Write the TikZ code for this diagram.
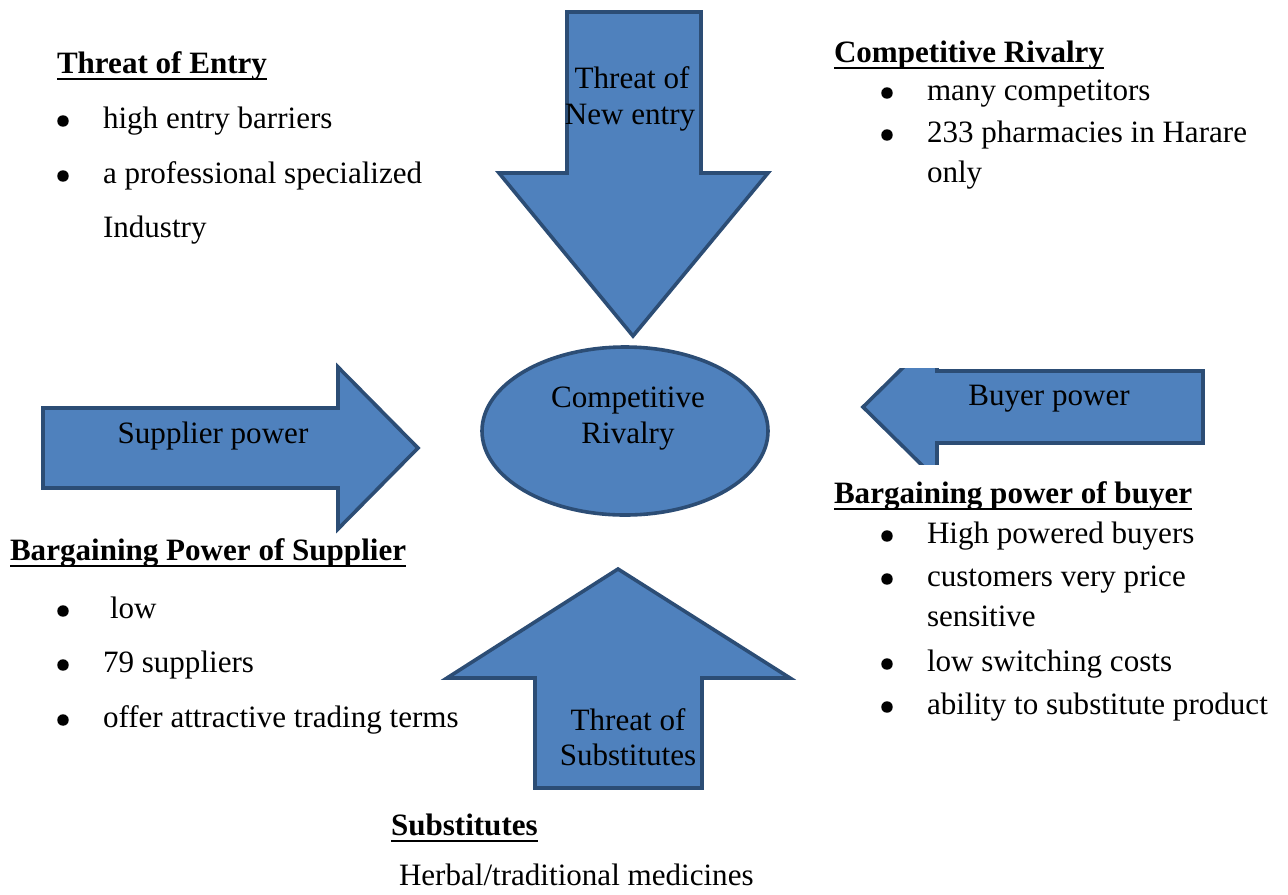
\documentclass[tikz,border=0pt]{standalone}
\usepackage{fontspec}
\setmainfont{Liberation Serif}
\usetikzlibrary{calc,shapes.geometric}
\definecolor{arrfill}{HTML}{4F81BD}
\definecolor{arrline}{HTML}{2C4D75}
\begin{document}
\begin{tikzpicture}[x=0.75pt,y=-0.75pt,
  forceshape/.style={fill=arrfill,draw=arrline,line width=2.7pt,line join=miter},
  txt/.style={font=\fontsize{23.3}{27}\selectfont,inner sep=0pt,outer sep=0pt,anchor=base west},
  ctxt/.style={font=\fontsize{23.3}{27}\selectfont,inner sep=0pt,outer sep=0pt,anchor=base},
  head/.style={txt,font=\fontsize{23.3}{27}\selectfont\bfseries},
  bul/.style={circle,fill=black,inner sep=0pt,minimum size=8.6pt},
  uline/.style={line width=1.9pt}]
\useasboundingbox (0,0) rectangle (1288,894);

% Threat of new entry (down arrow)
\draw[forceshape] (567,12) -- (701,12) -- (701,173) -- (768,173) -- (633,336) -- (499,173) -- (567,173) -- cycle;
\node[ctxt] (tne1) at (632,88) {Threat of};
\node[ctxt] (tne2) at (630,124) {New entry};

% Central ellipse
\node[forceshape,ellipse,minimum width=214.5pt,minimum height=126pt,inner sep=0pt] (rivalry) at (625,431) {};
\node[ctxt] (riv1) at (628,407) {Competitive};
\node[ctxt] (riv2) at (628,443) {Rivalry};

% Supplier power (right arrow)
\draw[forceshape] (43,408) -- (338,408) -- (338,367) -- (418,448) -- (338,529) -- (338,488) -- (43,488) -- cycle;
\node[ctxt] (sp) at (213,443) {Supplier power};

% Buyer power (left arrow, clipped)
\begin{scope}
\clip (850,368) rectangle (1215,464);
\draw[forceshape] (1203,371) -- (1203,443) -- (937,443) -- (937,480) -- (863,407) -- (937,334) -- (937,371) -- cycle;
\end{scope}
\node[ctxt] (bp) at (1049,405) {Buyer power};

% Threat of substitutes (up arrow)
\draw[forceshape] (618,569) -- (790,678) -- (702,678) -- (702,788) -- (535,788) -- (535,678) -- (447,678) -- cycle;
\node[ctxt] (ts1) at (628,730) {Threat of};
\node[ctxt] (ts2) at (628,765) {Substitutes};

% Threat of Entry
\node[head] (hTE) at (57,73) {Threat of Entry};
\draw[uline] ($(hTE.base west)+(0,6)$) -- ($(hTE.base east)+(0,6)$);
\node[bul] (bTE1) at (63,121) {};
\node[txt] (tTE1) at (103,128) {high entry barriers};
\node[bul] (bTE2) at (63,176) {};
\node[txt] (tTE2) at (103,183) {a professional specialized};
\node[txt] (tTE3) at (103,237) {Industry};

% Competitive Rivalry
\node[head] (hCR) at (834,62) {Competitive Rivalry};
\draw[uline] ($(hCR.base west)+(0,6)$) -- ($(hCR.base east)+(0,6)$);
\node[bul] (bCR1) at (887,93) {};
\node[txt] (tCR1) at (927,100) {many competitors};
\node[bul] (bCR2) at (887,135) {};
\node[txt] (tCR2) at (927,142) {233 pharmacies in Harare};
\node[txt] (tCR3) at (927,182) {only};

% Bargaining power of buyer
\node[head] (hBB) at (834,503) {Bargaining power of buyer};
\draw[uline] ($(hBB.base west)+(0,6)$) -- ($(hBB.base east)+(0,6)$);
\node[bul] (bBB1) at (887,536) {};
\node[txt] (tBB1) at (927,543) {High powered buyers};
\node[bul] (bBB2) at (887,579) {};
\node[txt] (tBB2) at (927,586) {customers very price};
\node[txt] (tBB3) at (927,626) {sensitive};
\node[bul] (bBB4) at (887,664) {};
\node[txt] (tBB4) at (927,671) {low switching costs};
\node[bul] (bBB5) at (887,707) {};
\node[txt] (tBB5) at (927,714) {ability to substitute product};

% Bargaining Power of Supplier
\node[head] (hBS) at (10,560) {Bargaining Power of Supplier};
\draw[uline] ($(hBS.base west)+(0,6)$) -- ($(hBS.base east)+(0,6)$);
\node[bul] (bBS1) at (63,611) {};
\node[txt] (tBS1) at (110,618) {low};
\node[bul] (bBS2) at (63,665) {};
\node[txt] (tBS2) at (103,672) {79 suppliers};
\node[bul] (bBS3) at (63,720) {};
\node[txt] (tBS3) at (103,727) {offer attractive trading terms};

% Substitutes
\node[head] (hSU) at (391,835) {Substitutes};
\draw[uline] ($(hSU.base west)+(0,6)$) -- ($(hSU.base east)+(0,6)$);
\node[txt] (tSU) at (399,885) {Herbal/traditional medicines};
\end{tikzpicture}
\end{document}
